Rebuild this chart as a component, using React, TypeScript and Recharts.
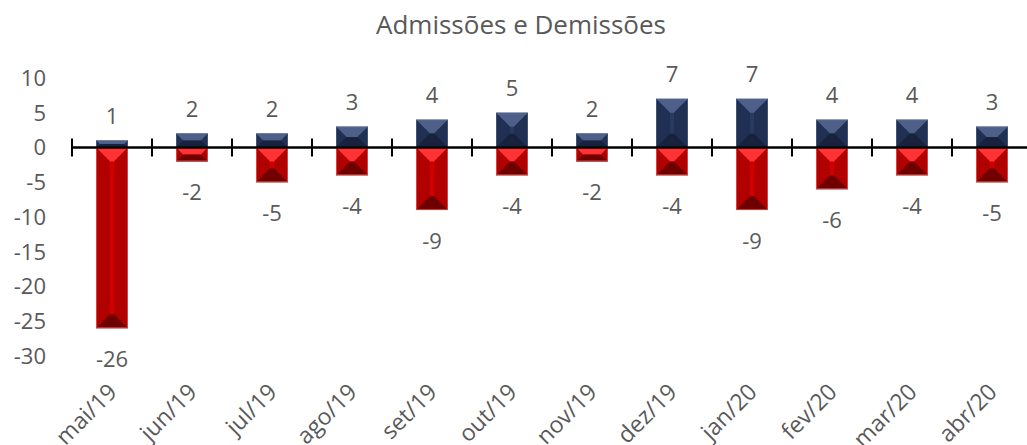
import React from "react";
import { BarChart, Bar, XAxis, YAxis, ReferenceLine, LabelList } from "recharts";

const categories = ["mai/19", "jun/19", "jul/19", "ago/19", "set/19", "out/19", "nov/19", "dez/19", "jan/20", "fev/20", "mar/20", "abr/20"];
const admissoes = [1, 2, 2, 3, 4, 5, 2, 7, 7, 4, 4, 3];
const demissoes = [-26, -2, -5, -4, -9, -4, -2, -4, -9, -6, -4, -5];
const yTicks = [-30, -25, -20, -15, -10, -5, 0, 5, 10];
const title = "Admissões e Demissões";

const data = categories.map((c, i) => ({ mes: c, adm: admissoes[i], dem: demissoes[i] }));

const FONT = "'Open Sans', sans-serif";
const TXT = "#595959";

const palettes: Record<string, { face: string; top: string; side: string; bottom: string; edge: string }> = {
  navy: { face: "#283A62", top: "#4E5F8A", side: "#203052", bottom: "#18223C", edge: "#5A6A90" },
  red: { face: "#D00000", top: "#FF3333", side: "#B00000", bottom: "#700000", edge: "#F07070" },
};

const makeBevel = (key: string) => (props: any) => {
  const p = palettes[key];
  const x = Number(props.x);
  const w = Number(props.width);
  const y0 = Number(props.y);
  const h0 = Number(props.height);
  if (!isFinite(x) || !isFinite(w) || !isFinite(y0) || !isFinite(h0)) return <g />;
  const top = Math.min(y0, y0 + h0);
  const h = Math.abs(h0);
  if (h <= 0 || w <= 0) return <g />;
  const b = Math.min(14, w / 2, h / 2);
  const L = x, R = x + w, T = top, B = top + h;
  const iL = L + b, iR = R - b, iT = T + b, iB = B - b;
  return (
    <g>
      <rect x={L} y={T} width={w} height={h} fill={p.face} />
      <polygon points={`${L},${T} ${R},${T} ${iR},${iT} ${iL},${iT}`} fill={p.top} />
      <polygon points={`${L},${T} ${iL},${iT} ${iL},${iB} ${L},${B}`} fill={p.side} />
      <polygon points={`${R},${T} ${iR},${iT} ${iR},${iB} ${R},${B}`} fill={p.side} />
      <polygon points={`${L},${B} ${iL},${iB} ${iR},${iB} ${R},${B}`} fill={p.bottom} />
      <rect x={L + 0.5} y={T + 0.5} width={w - 1} height={h - 1} fill="none" stroke={p.edge} strokeWidth={1} strokeOpacity={0.6} />
    </g>
  );
};

const renderValueLabel = (props: any) => {
  const x = Number(props.x);
  const y = Number(props.y);
  const width = Number(props.width);
  const height = Number(props.height);
  const value = Number(props.value);
  const top = Math.min(y, y + height);
  const bottom = Math.max(y, y + height);
  const cx = x + width / 2;
  const ty = value >= 0 ? top - 26 : bottom + 30;
  return (
    <text x={cx} y={ty} textAnchor="middle" dominantBaseline="central" fill={TXT} fontSize={22} fontFamily={FONT}>
      {value}
    </text>
  );
};

const renderXTick = (props: any) => {
  const { x, y, payload } = props;
  const ax = Number(x);
  const ay = Number(y) + 31;
  return (
    <text
      x={ax}
      y={ay}
      textAnchor="end"
      dominantBaseline="central"
      transform={`rotate(-45, ${ax}, ${ay})`}
      fill={TXT}
      fontSize={23}
      fontFamily={FONT}
    >
      {payload.value}
    </text>
  );
};

const zeroLineShape = (props: any) => {
  const x1 = Number(props.x1);
  const x2 = Number(props.x2);
  const y = Number(props.y1);
  const n = categories.length;
  const step = (x2 - x1) / n;
  const ticks = [];
  for (let i = 0; i <= n; i++) {
    const tx = x1 + i * step;
    ticks.push(<line key={i} x1={tx} x2={tx} y1={y - 9} y2={y + 9} stroke="#000" strokeWidth={2} />);
  }
  return (
    <g>
      <line x1={x1} x2={x2} y1={y} y2={y} stroke="#000" strokeWidth={2.5} />
      {ticks}
    </g>
  );
};

export default function App() {
  return (
    <div style={{ position: "absolute", left: 0, top: 0, width: 1027, height: 445, overflow: "hidden", background: "#fff" }}>
      <svg width={1027} height={60} style={{ position: "absolute", left: 0, top: 0 }}>
        <text x={521} y={34} textAnchor="middle" fill={TXT} fontSize={26} fontFamily={FONT}>
          {title}
        </text>
      </svg>
      <div style={{ position: "absolute", left: 0, top: 0 }}>
        <BarChart
          width={1040}
          height={445}
          data={data}
          stackOffset="sign"
          margin={{ top: 78, right: 8, left: 0, bottom: 0 }}
          barSize={32}
        >
          <YAxis
            type="number"
            domain={[-30, 10]}
            ticks={yTicks}
            width={72}
            axisLine={false}
            tickLine={false}
            tickSize={0}
            tickMargin={26}
            interval={0}
            tick={{ fill: TXT, fontSize: 22, fontFamily: FONT }}
          />
          <XAxis
            dataKey="mes"
            height={89}
            axisLine={false}
            tickLine={false}
            tickSize={0}
            tickMargin={0}
            interval={0}
            tick={renderXTick}
          />
          <Bar dataKey="adm" stackId="s" fill="#283A62" shape={makeBevel("navy")} isAnimationActive={false}>
            <LabelList dataKey="adm" content={renderValueLabel} />
          </Bar>
          <Bar dataKey="dem" stackId="s" fill="#D00000" shape={makeBevel("red")} isAnimationActive={false}>
            <LabelList dataKey="dem" content={renderValueLabel} />
          </Bar>
          <ReferenceLine y={0} stroke="#000" strokeWidth={2.5} shape={zeroLineShape} ifOverflow="visible" />
        </BarChart>
      </div>
    </div>
  );
}
